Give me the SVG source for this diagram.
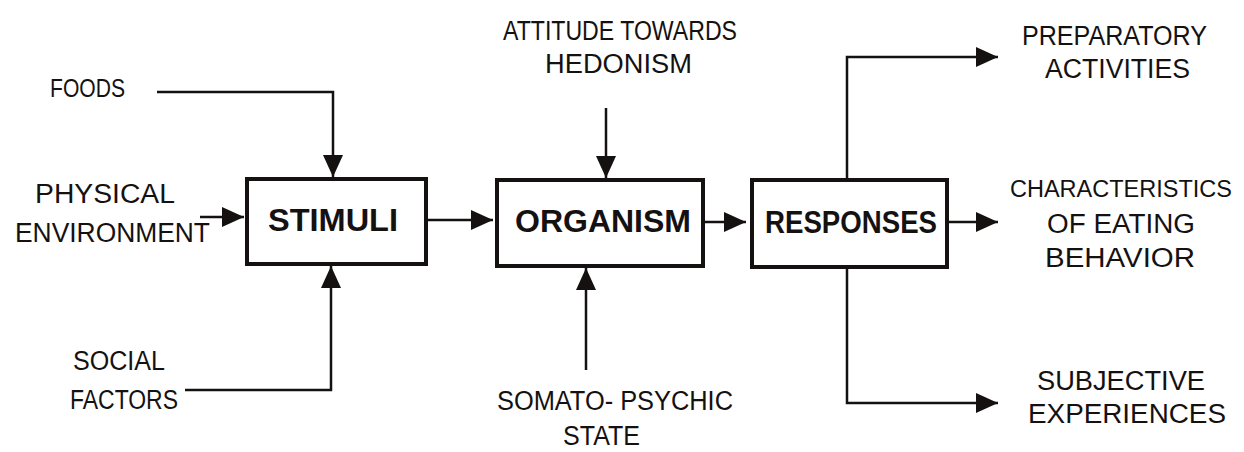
<svg xmlns="http://www.w3.org/2000/svg" width="1244" height="452" viewBox="0 0 1244 452">
<style>
.lbl{font-family:"Liberation Sans",Arial,sans-serif;font-size:27px;fill:#151111}
.box{fill:none;stroke:#151111;stroke-width:4}
.bl{font-family:"Liberation Sans",Arial,sans-serif;font-size:32px;font-weight:bold;fill:#151111}
.con path{fill:none;stroke:#151111;stroke-width:2.5;marker-end:url(#ah)}
</style>
<defs>
<marker id="ah" markerUnits="userSpaceOnUse" markerWidth="24" markerHeight="20" refX="22" refY="10" orient="auto">
<path d="M0,0 L22,10 L0,20 z" fill="#151111"/>
</marker>
</defs>
<rect width="1244" height="452" fill="#ffffff"/>
<g id="stimuli">
<rect class="box" x="247" y="179" width="179" height="85"/>
<text class="bl" x="268" y="231" textLength="130" lengthAdjust="spacingAndGlyphs">STIMULI</text>
</g>
<g id="organism">
<rect class="box" x="497" y="180" width="206" height="86"/>
<text class="bl" x="515" y="232" textLength="176" lengthAdjust="spacingAndGlyphs">ORGANISM</text>
</g>
<g id="responses">
<rect class="box" x="752" y="180" width="195" height="87"/>
<text class="bl" x="765" y="233" textLength="172" lengthAdjust="spacingAndGlyphs">RESPONSES</text>
</g>
<g id="foods"><text class="lbl" x="50" y="97" style="font-size:25px" textLength="75" lengthAdjust="spacingAndGlyphs">FOODS</text></g>
<g id="physical">
<text class="lbl" x="35" y="203" textLength="140" lengthAdjust="spacingAndGlyphs">PHYSICAL</text>
<text class="lbl" x="15" y="242" textLength="195" lengthAdjust="spacingAndGlyphs">ENVIRONMENT</text>
</g>
<g id="social">
<text class="lbl" x="73" y="370" textLength="92" lengthAdjust="spacingAndGlyphs">SOCIAL</text>
<text class="lbl" x="70" y="409" textLength="108" lengthAdjust="spacingAndGlyphs">FACTORS</text>
</g>
<g id="attitude">
<text class="lbl" x="503" y="40" textLength="234" lengthAdjust="spacingAndGlyphs">ATTITUDE TOWARDS</text>
<text class="lbl" x="545" y="73" textLength="147" lengthAdjust="spacingAndGlyphs">HEDONISM</text>
</g>
<g id="somato">
<text class="lbl" x="497" y="410" textLength="236" lengthAdjust="spacingAndGlyphs">SOMATO- PSYCHIC</text>
<text class="lbl" x="563" y="445" textLength="77" lengthAdjust="spacingAndGlyphs">STATE</text>
</g>
<g id="preparatory">
<text class="lbl" x="1022" y="45" textLength="185" lengthAdjust="spacingAndGlyphs">PREPARATORY</text>
<text class="lbl" x="1045" y="78" textLength="145" lengthAdjust="spacingAndGlyphs">ACTIVITIES</text>
</g>
<g id="characteristics">
<text class="lbl" x="1010" y="197" style="font-size:23.5px" textLength="222" lengthAdjust="spacingAndGlyphs">CHARACTERISTICS</text>
<text class="lbl" x="1047" y="233" textLength="148" lengthAdjust="spacingAndGlyphs">OF EATING</text>
<text class="lbl" x="1045" y="267" textLength="150" lengthAdjust="spacingAndGlyphs">BEHAVIOR</text>
</g>
<g id="subjective">
<text class="lbl" x="1037" y="390" textLength="168" lengthAdjust="spacingAndGlyphs">SUBJECTIVE</text>
<text class="lbl" x="1028" y="423" textLength="198" lengthAdjust="spacingAndGlyphs">EXPERIENCES</text>
</g>
<g id="connectors" class="con">
<path d="M157,92 H333 V177"/>
<path d="M200,217 H244"/>
<path d="M185,390 H331 V266"/>
<path d="M428,220 H493"/>
<path d="M606,108 V178"/>
<path d="M586,370 V268"/>
<path d="M703,222 H746"/>
<path d="M847,180 V57 H998"/>
<path d="M947,222 H998"/>
<path d="M847,267 V403 H998"/>
</g>
</svg>
